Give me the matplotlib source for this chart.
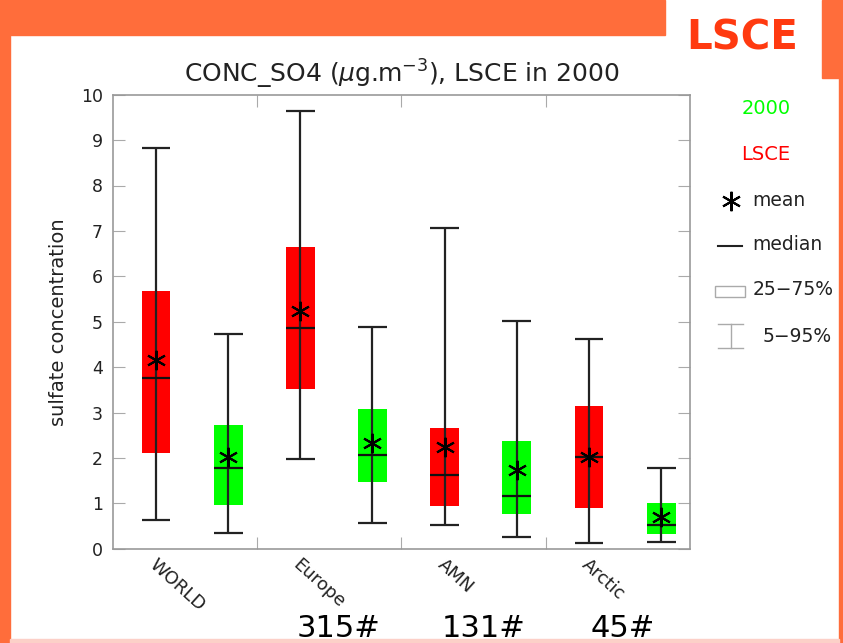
import numpy as np
import matplotlib
matplotlib.use("Agg")
import matplotlib.pyplot as plt
from matplotlib.patches import Rectangle
from matplotlib.lines import Line2D

# data (sulfate concentration, ug/m3)
regions = ["WORLD", "Europe", "AMN", "Arctic"]
counts = ["315#", "131#", "45#"]

# red = LSCE model
lsce_p5 = [0.63, 1.97, 0.52, 0.13]
lsce_q1 = [2.11, 3.52, 0.93, 0.90]
lsce_med = [3.75, 4.87, 1.62, 2.02]
lsce_mean = [4.16, 5.24, 2.25, 2.03]
lsce_q3 = [5.68, 6.64, 2.65, 3.14]
lsce_p95 = [8.82, 9.63, 7.06, 4.62]

# green = 2000 observations
obs_p5 = [0.35, 0.56, 0.25, 0.14]
obs_q1 = [0.96, 1.46, 0.76, 0.32]
obs_med = [1.77, 2.06, 1.15, 0.52]
obs_mean = [2.01, 2.32, 1.73, 0.69]
obs_q3 = [2.72, 3.08, 2.38, 1.00]
obs_p95 = [4.74, 4.88, 5.02, 1.77]

W, H = 843, 643
fig = plt.figure(figsize=(W / 100, H / 100), dpi=100)
fig.patch.set_facecolor("white")


def fx(x):
    return x / W


def fy(y):
    return 1 - y / H


def frame(x0, y0, x1, y1, color):
    fig.patches.append(Rectangle((fx(x0), fy(y1)), (x1 - x0) / W, (y1 - y0) / H,
                                 transform=fig.transFigure, color=color, zorder=0))


# orange slide frame
orange = "#ff6d3b"
frame(0, 0, 665, 35, orange)
frame(0, 0, 10, H, orange)
frame(822, 0, W, 78, orange)
frame(839, 0, W, H, orange)
frame(10, 639, 839, H, "#fcd0c8")

fig.text(fx(742), fy(39), "LSCE", color="#ff3a10", fontsize=29, fontweight="bold",
         ha="center", va="center")

ax = fig.add_axes([112.7 / W, 1 - 548.7 / H, 577.3 / W, 454.0 / H])
x = np.arange(len(regions))
xr = x + 0.3
xg = x + 0.8
bw = 0.2


def boxes(pos, p5, q1, med, mean, q3, p95, color):
    q1 = np.array(q1)
    q3 = np.array(q3)
    ax.bar(pos, q3 - q1, bottom=q1, width=bw, color=color, zorder=2)
    ax.vlines(pos, p5, p95, color="#222222", lw=1.6, zorder=3)
    ax.hlines(p5, pos - bw / 2, pos + bw / 2, color="#222222", lw=1.6, zorder=3)
    ax.hlines(p95, pos - bw / 2, pos + bw / 2, color="#222222", lw=1.6, zorder=3)
    ax.hlines(med, pos - bw / 2, pos + bw / 2, color="#111111", lw=1.6, zorder=3)
    ax.plot(pos, mean, ls="none", marker=(6, 2, 0), ms=14, mew=1.5, color="k", zorder=4)


boxes(xr, lsce_p5, lsce_q1, lsce_med, lsce_mean, lsce_q3, lsce_p95, "#ff0000")
boxes(xg, obs_p5, obs_q1, obs_med, obs_mean, obs_q3, obs_p95, "#00ff00")

ax.set_xlim(0, 4)
ax.set_ylim(0, 10)
ax.set_yticks(range(11))
ax.set_xticks([1, 2, 3])
ax.set_xticklabels([])
ax.set_xticks(x + 0.31, minor=True)
ax.set_xticklabels(regions, minor=True, rotation=-42, ha="left", va="top",
                   rotation_mode="anchor", fontsize=13, color="#222222")
ax.tick_params(axis="x", which="minor", length=0, pad=5)
ax.tick_params(axis="both", which="major", direction="in", length=8.5, color="#aaaaaa",
               top=True, right=True, labelsize=12.5, labelcolor="#222222", pad=7)
for s in ax.spines.values():
    s.set_color("#999999")
    s.set_linewidth(1.2)

ax.set_ylabel("sulfate concentration", fontsize=14, color="#222222", labelpad=9)
ax.set_title(r"CONC_SO4 ($\mu$g.m$^{-3}$), LSCE in 2000", fontsize=18, color="#222222", pad=9)

# legend drawn by hand on the right
fig.text(fx(766), fy(108), "2000", color="#00ff00", fontsize=14, ha="center", va="center")
fig.text(fx(766), fy(154), "LSCE", color="#ff0000", fontsize=14, ha="center", va="center")
fig.add_artist(Line2D([fx(731)], [fy(200.5)], marker=(6, 2, 0), ms=14, mew=1.5, color="k",
                      transform=fig.transFigure))
fig.text(fx(752), fy(200), "mean", fontsize=13.5, color="#222222", va="center")
fig.add_artist(Line2D([fx(718), fx(742)], [fy(245.5), fy(245.5)], color="#222222", lw=1.5,
                      transform=fig.transFigure))
fig.text(fx(752), fy(245), "median", fontsize=13.5, color="#222222", va="center")
fig.patches.append(Rectangle((fx(715), fy(297)), 30 / W, 11 / H, transform=fig.transFigure,
                             facecolor="none", edgecolor="#aaaaaa", lw=1))
fig.text(fx(753), fy(290), "25\u221275%", fontsize=13.5, color="#222222", va="center")
gray = "#aaaaaa"
fig.add_artist(Line2D([fx(730.5), fx(730.5)], [fy(324), fy(348)], color=gray, lw=1,
                      transform=fig.transFigure))
fig.add_artist(Line2D([fx(718), fx(743)], [fy(324), fy(324)], color=gray, lw=1,
                      transform=fig.transFigure))
fig.add_artist(Line2D([fx(718), fx(743)], [fy(348), fy(348)], color=gray, lw=1,
                      transform=fig.transFigure))
fig.text(fx(763), fy(337), "5\u221295%", fontsize=13.5, color="#222222", va="center")

for cx, lab in zip([339, 484, 623], counts):
    fig.text(fx(cx), fy(637), lab, fontsize=22, color="k", ha="center", va="baseline")

fig.savefig("out.png", dpi=100)
